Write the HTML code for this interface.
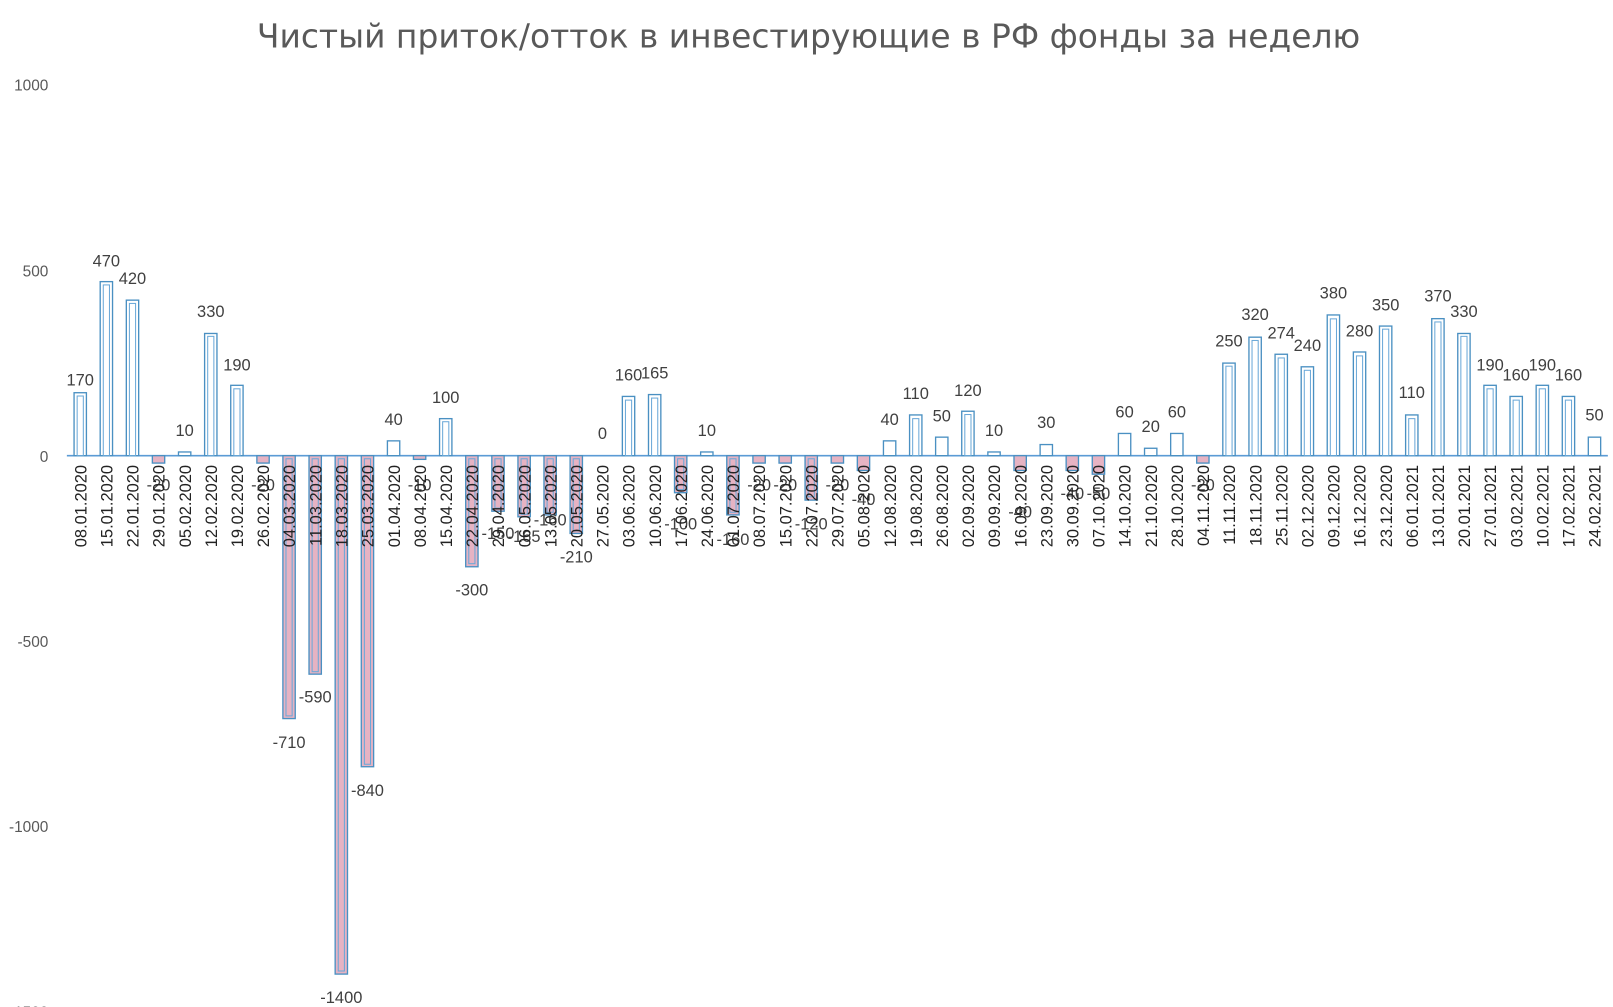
<!DOCTYPE html>
<html><head><meta charset="utf-8"><style>
body{margin:0;background:#fff}
svg{display:block;font-family:"Liberation Sans","DejaVu Sans",sans-serif}
.b{fill:#fff;stroke:#4a90c2;stroke-width:1.3}
.n{fill:#e6b3c3;stroke:#4a90c2;stroke-width:1.3}
.i{fill:none;stroke:#6aa8d8;stroke-width:1}
.v{font-size:16px;fill:#404040;text-anchor:middle}
.d{font-size:16px;fill:#222;text-anchor:end}
.y{font-size:15px;fill:#595959;text-anchor:end}
</style></head><body>
<svg width="1613" height="1007" viewBox="0 0 1568 979" preserveAspectRatio="none">
<text x="786" y="46" font-size="32" fill="#595959" text-anchor="middle" font-family="DejaVu Sans, sans-serif">Чистый приток/отток в инвестирующие в РФ фонды за неделю</text>
<text class="y" x="47" y="88">1000</text>
<text class="y" x="47" y="269">500</text>
<text class="y" x="47" y="449">0</text>
<text class="y" x="47" y="629">-500</text>
<text class="y" x="47" y="809">-1000</text>
<text class="y" x="47" y="989">-1500</text>
<line x1="65" y1="443" x2="1563" y2="443" stroke="#5b9bd5" stroke-width="1.5"/>
<g transform="translate(0,443)">
<g transform="translate(78,0)"><rect class="b" x="-6" y="-61.2" width="12" height="61.2"/><rect class="i" x="-3" y="-58" width="6" height="58"/><text class="v" y="-68">170</text><text class="d" transform="translate(6,9) rotate(-90)">08.01.2020</text></g>
<g transform="translate(103.4,0)"><rect class="b" x="-6" y="-169.2" width="12" height="169.2"/><rect class="i" x="-3" y="-166" width="6" height="166"/><text class="v" y="-184">470</text><text class="d" transform="translate(6,9) rotate(-90)">15.01.2020</text></g>
<g transform="translate(128.8,0)"><rect class="b" x="-6" y="-151.2" width="12" height="151.2"/><rect class="i" x="-3" y="-148" width="6" height="148"/><text class="v" y="-167">420</text><text class="d" transform="translate(6,9) rotate(-90)">22.01.2020</text></g>
<g transform="translate(154.1,0)"><rect class="n" x="-6" y="0" width="12" height="7.2"/><text class="v" y="34">-20</text><text class="d" transform="translate(6,9) rotate(-90)">29.01.2020</text></g>
<g transform="translate(179.5,0)"><rect class="b" x="-6" y="-3.6" width="12" height="3.6"/><text class="v" y="-19">10</text><text class="d" transform="translate(6,9) rotate(-90)">05.02.2020</text></g>
<g transform="translate(204.9,0)"><rect class="b" x="-6" y="-118.8" width="12" height="118.8"/><rect class="i" x="-3" y="-116" width="6" height="116"/><text class="v" y="-135">330</text><text class="d" transform="translate(6,9) rotate(-90)">12.02.2020</text></g>
<g transform="translate(230.3,0)"><rect class="b" x="-6" y="-68.4" width="12" height="68.4"/><rect class="i" x="-3" y="-65" width="6" height="65"/><text class="v" y="-83">190</text><text class="d" transform="translate(6,9) rotate(-90)">19.02.2020</text></g>
<g transform="translate(255.7,0)"><rect class="n" x="-6" y="0" width="12" height="7.2"/><text class="v" y="34">-20</text><text class="d" transform="translate(6,9) rotate(-90)">26.02.2020</text></g>
<g transform="translate(281,0)"><rect class="n" x="-6" y="0" width="12" height="255.6"/><rect class="i" x="-3" y="3" width="6" height="250"/><text class="v" y="284">-710</text><text class="d" transform="translate(6,9) rotate(-90)">04.03.2020</text></g>
<g transform="translate(306.4,0)"><rect class="n" x="-6" y="0" width="12" height="212.4"/><rect class="i" x="-3" y="3" width="6" height="207"/><text class="v" y="240">-590</text><text class="d" transform="translate(6,9) rotate(-90)">11.03.2020</text></g>
<g transform="translate(331.8,0)"><rect class="n" x="-6" y="0" width="12" height="504"/><rect class="i" x="-3" y="3" width="6" height="498"/><text class="v" y="532">-1400</text><text class="d" transform="translate(6,9) rotate(-90)">18.03.2020</text></g>
<g transform="translate(357.2,0)"><rect class="n" x="-6" y="0" width="12" height="302.4"/><rect class="i" x="-3" y="3" width="6" height="297"/><text class="v" y="331">-840</text><text class="d" transform="translate(6,9) rotate(-90)">25.03.2020</text></g>
<g transform="translate(382.6,0)"><rect class="b" x="-6" y="-14.4" width="12" height="14.4"/><text class="v" y="-30">40</text><text class="d" transform="translate(6,9) rotate(-90)">01.04.2020</text></g>
<g transform="translate(407.9,0)"><rect class="n" x="-6" y="0" width="12" height="3.6"/><text class="v" y="34">-10</text><text class="d" transform="translate(6,9) rotate(-90)">08.04.2020</text></g>
<g transform="translate(433.3,0)"><rect class="b" x="-6" y="-36" width="12" height="36"/><rect class="i" x="-3" y="-33" width="6" height="33"/><text class="v" y="-51">100</text><text class="d" transform="translate(6,9) rotate(-90)">15.04.2020</text></g>
<g transform="translate(458.7,0)"><rect class="n" x="-6" y="0" width="12" height="108"/><rect class="i" x="-3" y="3" width="6" height="102"/><text class="v" y="136">-300</text><text class="d" transform="translate(6,9) rotate(-90)">22.04.2020</text></g>
<g transform="translate(484.1,0)"><rect class="n" x="-6" y="0" width="12" height="54"/><rect class="i" x="-3" y="3" width="6" height="48"/><text class="v" y="81">-150</text><text class="d" transform="translate(6,9) rotate(-90)">29.04.2020</text></g>
<g transform="translate(509.5,0)"><rect class="n" x="-6" y="0" width="12" height="59.4"/><rect class="i" x="-3" y="3" width="6" height="54"/><text class="v" y="84">-165</text><text class="d" transform="translate(6,9) rotate(-90)">06.05.2020</text></g>
<g transform="translate(534.8,0)"><rect class="n" x="-6" y="0" width="12" height="57.6"/><rect class="i" x="-3" y="3" width="6" height="52"/><text class="v" y="68">-160</text><text class="d" transform="translate(6,9) rotate(-90)">13.05.2020</text></g>
<g transform="translate(560.2,0)"><rect class="n" x="-6" y="0" width="12" height="75.6"/><rect class="i" x="-3" y="3" width="6" height="70"/><text class="v" y="104">-210</text><text class="d" transform="translate(6,9) rotate(-90)">20.05.2020</text></g>
<g transform="translate(585.6,0)"><text class="v" y="-16">0</text><text class="d" transform="translate(6,9) rotate(-90)">27.05.2020</text></g>
<g transform="translate(611,0)"><rect class="b" x="-6" y="-57.6" width="12" height="57.6"/><rect class="i" x="-3" y="-54" width="6" height="54"/><text class="v" y="-73">160</text><text class="d" transform="translate(6,9) rotate(-90)">03.06.2020</text></g>
<g transform="translate(636.4,0)"><rect class="b" x="-6" y="-59.4" width="12" height="59.4"/><rect class="i" x="-3" y="-56" width="6" height="56"/><text class="v" y="-75">165</text><text class="d" transform="translate(6,9) rotate(-90)">10.06.2020</text></g>
<g transform="translate(661.7,0)"><rect class="n" x="-6" y="0" width="12" height="36"/><rect class="i" x="-3" y="3" width="6" height="30"/><text class="v" y="72">-100</text><text class="d" transform="translate(6,9) rotate(-90)">17.06.2020</text></g>
<g transform="translate(687.1,0)"><rect class="b" x="-6" y="-3.6" width="12" height="3.6"/><text class="v" y="-19">10</text><text class="d" transform="translate(6,9) rotate(-90)">24.06.2020</text></g>
<g transform="translate(712.5,0)"><rect class="n" x="-6" y="0" width="12" height="57.6"/><rect class="i" x="-3" y="3" width="6" height="52"/><text class="v" y="87">-160</text><text class="d" transform="translate(6,9) rotate(-90)">01.07.2020</text></g>
<g transform="translate(737.9,0)"><rect class="n" x="-6" y="0" width="12" height="7.2"/><text class="v" y="34">-20</text><text class="d" transform="translate(6,9) rotate(-90)">08.07.2020</text></g>
<g transform="translate(763.3,0)"><rect class="n" x="-6" y="0" width="12" height="7.2"/><text class="v" y="34">-20</text><text class="d" transform="translate(6,9) rotate(-90)">15.07.2020</text></g>
<g transform="translate(788.6,0)"><rect class="n" x="-6" y="0" width="12" height="43.2"/><rect class="i" x="-3" y="3" width="6" height="37"/><text class="v" y="72">-120</text><text class="d" transform="translate(6,9) rotate(-90)">22.07.2020</text></g>
<g transform="translate(814,0)"><rect class="n" x="-6" y="0" width="12" height="7.2"/><text class="v" y="34">-20</text><text class="d" transform="translate(6,9) rotate(-90)">29.07.2020</text></g>
<g transform="translate(839.4,0)"><rect class="n" x="-6" y="0" width="12" height="14.4"/><text class="v" y="48">-40</text><text class="d" transform="translate(6,9) rotate(-90)">05.08.2020</text></g>
<g transform="translate(864.8,0)"><rect class="b" x="-6" y="-14.4" width="12" height="14.4"/><text class="v" y="-30">40</text><text class="d" transform="translate(6,9) rotate(-90)">12.08.2020</text></g>
<g transform="translate(890.2,0)"><rect class="b" x="-6" y="-39.6" width="12" height="39.6"/><rect class="i" x="-3" y="-36" width="6" height="36"/><text class="v" y="-55">110</text><text class="d" transform="translate(6,9) rotate(-90)">19.08.2020</text></g>
<g transform="translate(915.5,0)"><rect class="b" x="-6" y="-18" width="12" height="18"/><text class="v" y="-33">50</text><text class="d" transform="translate(6,9) rotate(-90)">26.08.2020</text></g>
<g transform="translate(940.9,0)"><rect class="b" x="-6" y="-43.2" width="12" height="43.2"/><rect class="i" x="-3" y="-40" width="6" height="40"/><text class="v" y="-58">120</text><text class="d" transform="translate(6,9) rotate(-90)">02.09.2020</text></g>
<g transform="translate(966.3,0)"><rect class="b" x="-6" y="-3.6" width="12" height="3.6"/><text class="v" y="-19">10</text><text class="d" transform="translate(6,9) rotate(-90)">09.09.2020</text></g>
<g transform="translate(991.7,0)"><rect class="n" x="-6" y="0" width="12" height="14.4"/><text class="v" y="60">-40</text><text class="d" transform="translate(6,9) rotate(-90)">16.09.2020</text></g>
<g transform="translate(1017.1,0)"><rect class="b" x="-6" y="-10.8" width="12" height="10.8"/><text class="v" y="-27">30</text><text class="d" transform="translate(6,9) rotate(-90)">23.09.2020</text></g>
<g transform="translate(1042.4,0)"><rect class="n" x="-6" y="0" width="12" height="14.4"/><text class="v" y="42">-40</text><text class="d" transform="translate(6,9) rotate(-90)">30.09.2020</text></g>
<g transform="translate(1067.8,0)"><rect class="n" x="-6" y="0" width="12" height="18"/><text class="v" y="42">-50</text><text class="d" transform="translate(6,9) rotate(-90)">07.10.2020</text></g>
<g transform="translate(1093.2,0)"><rect class="b" x="-6" y="-21.6" width="12" height="21.6"/><text class="v" y="-37">60</text><text class="d" transform="translate(6,9) rotate(-90)">14.10.2020</text></g>
<g transform="translate(1118.6,0)"><rect class="b" x="-6" y="-7.2" width="12" height="7.2"/><text class="v" y="-23">20</text><text class="d" transform="translate(6,9) rotate(-90)">21.10.2020</text></g>
<g transform="translate(1144,0)"><rect class="b" x="-6" y="-21.6" width="12" height="21.6"/><text class="v" y="-37">60</text><text class="d" transform="translate(6,9) rotate(-90)">28.10.2020</text></g>
<g transform="translate(1169.3,0)"><rect class="n" x="-6" y="0" width="12" height="7.2"/><text class="v" y="34">-20</text><text class="d" transform="translate(6,9) rotate(-90)">04.11.2020</text></g>
<g transform="translate(1194.7,0)"><rect class="b" x="-6" y="-90" width="12" height="90"/><rect class="i" x="-3" y="-87" width="6" height="87"/><text class="v" y="-106">250</text><text class="d" transform="translate(6,9) rotate(-90)">11.11.2020</text></g>
<g transform="translate(1220.1,0)"><rect class="b" x="-6" y="-115.2" width="12" height="115.2"/><rect class="i" x="-3" y="-112" width="6" height="112"/><text class="v" y="-132">320</text><text class="d" transform="translate(6,9) rotate(-90)">18.11.2020</text></g>
<g transform="translate(1245.5,0)"><rect class="b" x="-6" y="-98.6" width="12" height="98.6"/><rect class="i" x="-3" y="-95" width="6" height="95"/><text class="v" y="-114">274</text><text class="d" transform="translate(6,9) rotate(-90)">25.11.2020</text></g>
<g transform="translate(1270.9,0)"><rect class="b" x="-6" y="-86.4" width="12" height="86.4"/><rect class="i" x="-3" y="-83" width="6" height="83"/><text class="v" y="-102">240</text><text class="d" transform="translate(6,9) rotate(-90)">02.12.2020</text></g>
<g transform="translate(1296.2,0)"><rect class="b" x="-6" y="-136.8" width="12" height="136.8"/><rect class="i" x="-3" y="-133" width="6" height="133"/><text class="v" y="-153">380</text><text class="d" transform="translate(6,9) rotate(-90)">09.12.2020</text></g>
<g transform="translate(1321.6,0)"><rect class="b" x="-6" y="-100.8" width="12" height="100.8"/><rect class="i" x="-3" y="-97" width="6" height="97"/><text class="v" y="-116">280</text><text class="d" transform="translate(6,9) rotate(-90)">16.12.2020</text></g>
<g transform="translate(1347,0)"><rect class="b" x="-6" y="-126" width="12" height="126"/><rect class="i" x="-3" y="-123" width="6" height="123"/><text class="v" y="-141">350</text><text class="d" transform="translate(6,9) rotate(-90)">23.12.2020</text></g>
<g transform="translate(1372.4,0)"><rect class="b" x="-6" y="-39.6" width="12" height="39.6"/><rect class="i" x="-3" y="-36" width="6" height="36"/><text class="v" y="-56">110</text><text class="d" transform="translate(6,9) rotate(-90)">06.01.2021</text></g>
<g transform="translate(1397.8,0)"><rect class="b" x="-6" y="-133.2" width="12" height="133.2"/><rect class="i" x="-3" y="-130" width="6" height="130"/><text class="v" y="-150">370</text><text class="d" transform="translate(6,9) rotate(-90)">13.01.2021</text></g>
<g transform="translate(1423.1,0)"><rect class="b" x="-6" y="-118.8" width="12" height="118.8"/><rect class="i" x="-3" y="-116" width="6" height="116"/><text class="v" y="-135">330</text><text class="d" transform="translate(6,9) rotate(-90)">20.01.2021</text></g>
<g transform="translate(1448.5,0)"><rect class="b" x="-6" y="-68.4" width="12" height="68.4"/><rect class="i" x="-3" y="-65" width="6" height="65"/><text class="v" y="-83">190</text><text class="d" transform="translate(6,9) rotate(-90)">27.01.2021</text></g>
<g transform="translate(1473.9,0)"><rect class="b" x="-6" y="-57.6" width="12" height="57.6"/><rect class="i" x="-3" y="-54" width="6" height="54"/><text class="v" y="-73">160</text><text class="d" transform="translate(6,9) rotate(-90)">03.02.2021</text></g>
<g transform="translate(1499.3,0)"><rect class="b" x="-6" y="-68.4" width="12" height="68.4"/><rect class="i" x="-3" y="-65" width="6" height="65"/><text class="v" y="-83">190</text><text class="d" transform="translate(6,9) rotate(-90)">10.02.2021</text></g>
<g transform="translate(1524.7,0)"><rect class="b" x="-6" y="-57.6" width="12" height="57.6"/><rect class="i" x="-3" y="-54" width="6" height="54"/><text class="v" y="-73">160</text><text class="d" transform="translate(6,9) rotate(-90)">17.02.2021</text></g>
<g transform="translate(1550,0)"><rect class="b" x="-6" y="-18" width="12" height="18"/><text class="v" y="-34">50</text><text class="d" transform="translate(6,9) rotate(-90)">24.02.2021</text></g>
</g>
</svg>
</body></html>
